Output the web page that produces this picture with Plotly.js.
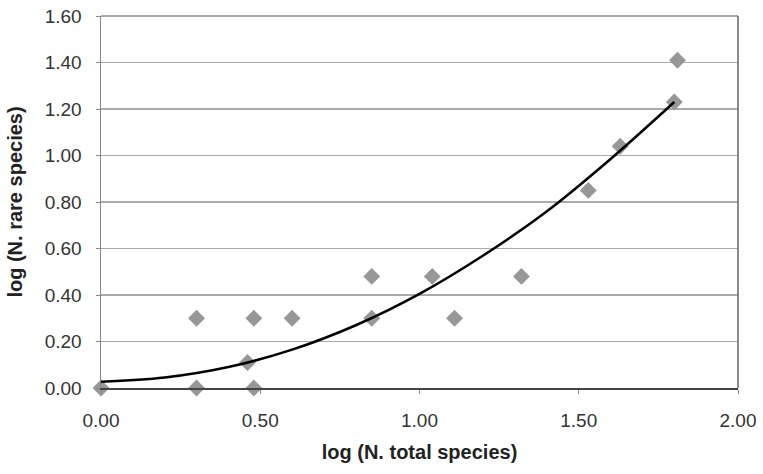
<!DOCTYPE html>
<html>
<head>
<meta charset="utf-8">
<script src="https://cdn.plot.ly/plotly-3.0.1.min.js"></script>
<style>html,body{margin:0;padding:0;background:#fff;}#chart{width:763px;height:474px;}</style>
</head>
<body>
<div id="chart"></div>
<script>
// Observed points: log(N. total species), log(N. rare species)
const logTotal = [0.00, 0.30, 0.30, 0.46, 0.48, 0.48, 0.60, 0.85, 0.85, 1.04, 1.11, 1.32, 1.53, 1.63, 1.80, 1.81];
const logRare  = [0.00, 0.30, 0.00, 0.11, 0.30, 0.00, 0.30, 0.48, 0.30, 0.48, 0.30, 0.48, 0.85, 1.04, 1.23, 1.41];

// Trend curve
const curveX = [0.00, 0.20, 0.40, 0.60, 0.80, 1.00, 1.20, 1.40, 1.60, 1.80];
const curveY = [0.027, 0.045, 0.09, 0.165, 0.27, 0.405, 0.57, 0.76, 0.985, 1.23];

const xTicks = [0, 0.5, 1.0, 1.5, 2.0];
const xTickLabels = ["0.00", "0.50", "1.00", "1.50", "2.00"];
const yTicks = [0, 0.2, 0.4, 0.6, 0.8, 1.0, 1.2, 1.4, 1.6];
const yTickLabels = ["0.00", "0.20", "0.40", "0.60", "0.80", "1.00", "1.20", "1.40", "1.60"];

const traces = [
  {
    x: logTotal, y: logRare, type: 'scatter', mode: 'markers',
    marker: {symbol: 'diamond', size: 13, color: '#979797'},
    cliponaxis: false, showlegend: false
  },
  {
    x: curveX, y: curveY, type: 'scatter', mode: 'lines',
    line: {color: '#000', width: 2.5, shape: 'spline', smoothing: 1},
    showlegend: false
  }
];

const layout = {
  width: 763, height: 474,
  margin: {l: 101, r: 25, t: 16, b: 86},
  paper_bgcolor: '#fff', plot_bgcolor: '#fff',
  font: {family: 'Liberation Sans, Arial, sans-serif', size: 19, color: '#333'},
  xaxis: {
    range: [0, 2], tickvals: xTicks, ticktext: xTickLabels,
    showgrid: false, zeroline: false,
    showline: true, linecolor: '#444', linewidth: 1.5, mirror: false,
    ticks: 'outside', ticklen: 4, tickcolor: '#888', ticklabelstandoff: 11,
    tickfont: {size: 19, color: '#333'},
    title: {text: '<b>log (N. total species)</b>', font: {size: 20, color: '#222'}, standoff: 14}
  },
  yaxis: {
    range: [0, 1.6], tickvals: yTicks, ticktext: yTickLabels,
    showgrid: true, gridcolor: '#aaaaaa', gridwidth: 1.3,
    zeroline: false,
    showline: true, linecolor: '#888', linewidth: 1.5,
    ticks: 'outside', ticklen: 4, tickcolor: '#888', ticklabelstandoff: 10,
    tickfont: {size: 19, color: '#333'},
    title: {text: '<b>log (N. rare species)</b>', font: {size: 20, color: '#222'}, standoff: 16}
  },
  shapes: [
    {type: 'line', xref: 'paper', yref: 'paper', x0: 0, x1: 1, y0: 1, y1: 1, line: {color: '#888', width: 1.5}},
    {type: 'line', xref: 'paper', yref: 'paper', x0: 1, x1: 1, y0: 0, y1: 1, line: {color: '#666', width: 1.5}}
  ]
};

Plotly.newPlot('chart', traces, layout, {staticPlot: true, displayModeBar: false});
</script>
</body>
</html>
